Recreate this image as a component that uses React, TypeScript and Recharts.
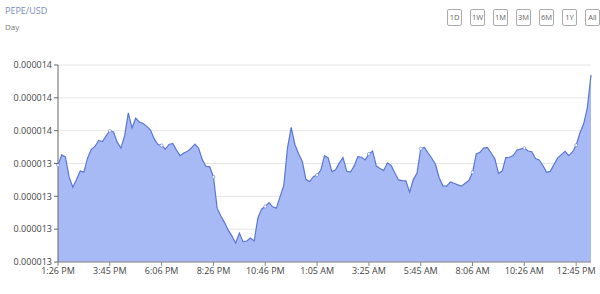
import { Area, AreaChart, CartesianGrid, XAxis, YAxis } from 'recharts';

// price samples every 10 minutes, in units of 1e-8 USD
const priceE8 = [
  1341.5, 1344.6, 1344.0, 1337.9, 1334.8, 1337.1, 1339.7, 1339.4, 1343.7, 1346.3,
  1347.2, 1349.0, 1348.7, 1350.4, 1351.9, 1351.6, 1348.5, 1346.7, 1350.4, 1357.4,
  1352.8, 1355.8, 1354.6, 1354.2, 1353.3, 1352.2, 1349.5, 1347.8, 1347.5, 1346.4,
  1347.8, 1348.1, 1346.1, 1344.4, 1345.2, 1345.7, 1346.7, 1347.9, 1346.6, 1343.1,
  1341.1, 1341.0, 1337.9, 1328.4, 1326.0, 1324.0, 1321.7, 1319.9, 1317.8, 1320.8,
  1318.2, 1318.4, 1319.3, 1318.4, 1325.4, 1328.1, 1328.9, 1330.1, 1328.8, 1328.4,
  1331.9, 1335.3, 1346.7, 1353.0, 1347.8, 1345.0, 1342.6, 1337.1, 1336.5, 1338.0,
  1338.5, 1340.0, 1344.4, 1343.7, 1339.5, 1340.1, 1342.2, 1343.8, 1339.7, 1339.4,
  1341.2, 1344.1, 1343.9, 1343.1, 1344.9, 1345.8, 1341.2, 1340.5, 1339.9, 1342.2,
  1341.4, 1339.1, 1337.0, 1336.8, 1336.7, 1333.3, 1337.1, 1339.1, 1346.5, 1346.9,
  1345.2, 1343.6, 1341.7, 1337.6, 1335.2, 1335.1, 1336.4, 1336.0, 1335.5, 1335.1,
  1336.0, 1336.8, 1339.3, 1344.9, 1345.4, 1346.7, 1346.9, 1345.2, 1343.5, 1339.0,
  1339.7, 1343.8, 1343.9, 1344.4, 1346.1, 1346.4, 1346.7, 1345.8, 1345.6, 1343.5,
  1343.1, 1341.4, 1339.3, 1339.6, 1341.7, 1343.7, 1344.7, 1345.7, 1344.4, 1345.5,
  1347.6, 1351.3, 1354.0, 1358.9, 1369.0,
];

const timeLabels = [
  '1:26 PM', '3:45 PM', '6:06 PM', '8:26 PM', '10:46 PM', '1:05 AM',
  '3:25 AM', '5:45 AM', '8:06 AM', '10:26 AM', '12:45 PM',
];
const labelEvery = 14;
const xTicks = timeLabels.map((_, k) => k * labelEvery);

const yTicks = [1312, 1322, 1332, 1342, 1352, 1362, 1372].map((v) => v / 1e8);

const ranges = ['1D', '1W', '1M', '3M', '6M', '1Y', 'All'];

const data = priceE8.map((v, i) => ({ i, price: v / 1e8 }));

const LINE = '#5a76d2';
const FILL = '#a8baf6';
const TICK = { fontSize: 9, fill: '#444', fontFamily: '"Open Sans", sans-serif' };

export default function App() {
  return (
    <div
      style={{
        position: 'absolute',
        left: 0,
        top: 0,
        width: 600,
        height: 294,
        background: '#fff',
        fontFamily: '"Open Sans", sans-serif',
      }}
    >
      <div style={{ position: 'absolute', left: 5, top: 4, fontSize: 9, color: '#7a89bf' }}>PEPE/USD</div>
      <div style={{ position: 'absolute', left: 5, top: 21, fontSize: 8, color: '#777' }}>Day</div>
      <div style={{ position: 'absolute', left: 447, top: 9, display: 'flex', gap: 8 }}>
        {ranges.map((r) => (
          <div
            key={r}
            style={{
              width: 13,
              height: 15,
              border: '1px solid #aaa',
              borderRadius: 2,
              fontSize: 7.5,
              color: '#666',
              lineHeight: '15px',
              textAlign: 'center',
            }}
          >
            {r}
          </div>
        ))}
      </div>
      <AreaChart width={600} height={294} data={data} margin={{ top: 65, right: 9, bottom: 12, left: 0 }}>
        <CartesianGrid vertical={false} stroke="#e6e6e6" />
        <XAxis
          dataKey="i"
          type="number"
          domain={[0, priceE8.length - 1]}
          ticks={xTicks}
          tickFormatter={(v: number) => timeLabels[Math.round(v / labelEvery)]}
          tick={TICK}
          tickSize={4}
          stroke="#888"
          height={20}
          interval={0}
        />
        <YAxis
          type="number"
          domain={[yTicks[0], yTicks[yTicks.length - 1]]}
          ticks={yTicks}
          tickFormatter={(v: number) => v.toFixed(6)}
          tick={TICK}
          tickSize={4}
          stroke="#666"
          width={58}
          interval={0}
          allowDataOverflow
        />
        <Area
          type="linear"
          dataKey="price"
          stroke={LINE}
          strokeWidth={1.2}
          fill={FILL}
          fillOpacity={1}
          isAnimationActive={false}
          dot={(p: any) =>
            p.index % labelEvery === 0 ? (
              <circle key={p.index} cx={p.cx} cy={p.cy} r={1.5} fill="#fff" stroke={LINE} strokeWidth={0.6} />
            ) : (
              <g key={p.index} />
            )
          }
          activeDot={false}
        />
      </AreaChart>
    </div>
  );
}
